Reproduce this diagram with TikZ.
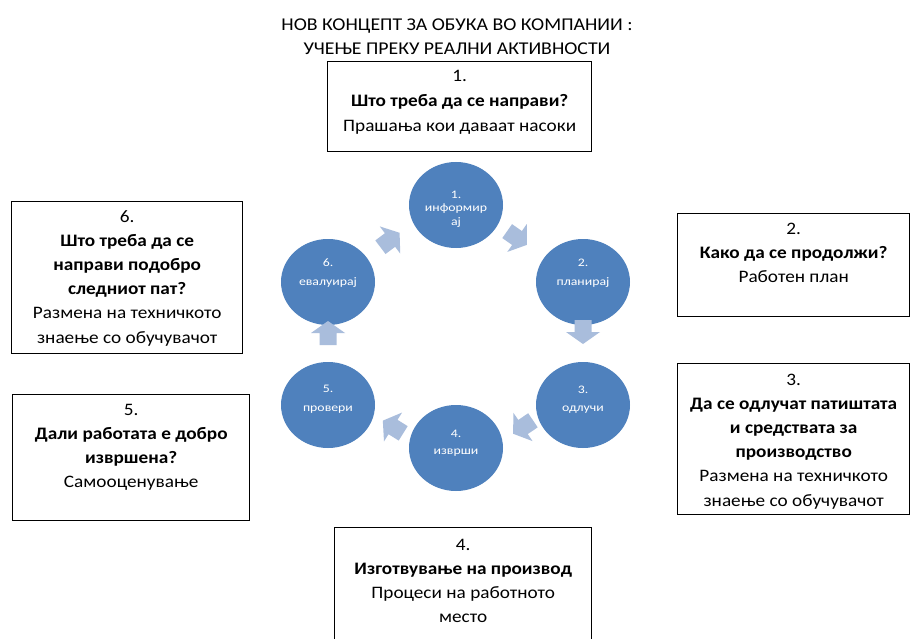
\documentclass[tikz,border=0pt]{standalone}
\usepackage{fontspec}
\setmainfont{Carlito}[FakeStretch=1.1]
\newfontfamily\circfont{Carlito}[FakeStretch=1.2]
\usetikzlibrary{shapes.geometric}
\definecolor{circblue}{HTML}{4F81BD}
\definecolor{arrblue}{HTML}{A9BDDC}
\begin{document}
\begin{tikzpicture}[x=1pt,y=-1pt,
 box/.style={draw=black, line width=1.4pt, anchor=north west, inner sep=0, minimum width=#1},
 boxtxt/.style={font=\fontsize{17.5}{24.1}\selectfont, align=center, anchor=north, inner sep=0},
 titletxt/.style={font=\fontsize{18}{24}\selectfont, align=center, anchor=north, inner sep=0},
 cyc/.style={ellipse, fill=circblue, minimum width=94, minimum height=86, inner sep=0},
 cyctxt/.style={text=white, font=\circfont\fontsize{11.5}{13.5}\selectfont, align=center, inner sep=0},
 blkarrow/.pic={\fill[arrblue] (-12,-8.5) -- (0,-8.5) -- (0,-17) -- (12,0) -- (0,17) -- (0,8.5) -- (-12,8.5) -- cycle;}
]
\path[use as bounding box, fill=white] (0,0) rectangle (910,639);
\clip (0,0) rectangle (910,639);

% title
\node[titletxt] (title) at (457,18.5) {НОВ КОНЦЕПТ ЗА ОБУКА ВО КОМПАНИИ :\\УЧЕЊЕ ПРЕКУ РЕАЛНИ АКТИВНОСТИ};

% boxes
\node[box=264, minimum height=90] (b1) at (327,61) {};
\node[boxtxt] (t1) at ([yshift=-9.5]b1.north) {1.\\\textbf{Што треба да се направи?}\\[1pt]Прашања кои даваат насоки};

\node[box=232, minimum height=103] (b2) at (677,213) {};
\node[boxtxt] (t2) at ([yshift=-9.5]b2.north) {2.\\\textbf{Како да се продолжи?}\\Работен план};

\node[box=232, minimum height=151] (b3) at (677,363) {};
\node[boxtxt] (t3) at ([yshift=-11]b3.north) {3.\\\textbf{Да се одлучат патиштата}\\\textbf{и средствата за}\\\textbf{производство}\\Размена на техничкото\\знаење со обучувачот};

\node[box=257, minimum height=125] (b4) at (334,527) {};
\node[boxtxt] (t4) at ([yshift=-12]b4.north) {4.\\\textbf{Изготвување на производ}\\Процеси на работното\\место};

\node[box=237, minimum height=126] (b5) at (12,394) {};
\node[boxtxt] (t5) at ([yshift=-10]b5.north) {5.\\\textbf{Дали работата е добро}\\\textbf{извршена?}\\Самооценување};

\node[box=231, minimum height=152] (b6) at (11,201) {};
\node[boxtxt] (t6) at ([yshift=-9.5]b6.north) {6.\\\textbf{Што треба да се}\\\textbf{направи подобро}\\\textbf{следниот пат?}\\Размена на техничкото\\знаење со обучувачот};

% cycle
\node[cyc] (c1) at (456,205) {};
\node[cyc] (c2) at (583,282) {};
\node[cyc] (c3) at (583,405) {};
\node[cyc] (c4) at (456,448) {};
\node[cyc] (c5) at (328,405) {};
\node[cyc] (c6) at (328,282) {};
\node[cyctxt] (l1) at (456,209) {1.\\информир\\ај};
\node[cyctxt] (l2) at (583,273.5) {2.\\[5.5pt]планирај};
\node[cyctxt] (l3) at (583,399.5) {3.\\[5pt]одлучи};
\node[cyctxt] (l4) at (456,443) {4.\\[4pt]изврши};
\node[cyctxt] (l5) at (328,399) {5.\\[5.5pt]провери};
\node[cyctxt] (l6) at (328,273.5) {6.\\[5.5pt]евалуирај};

% block arrows
\pic[rotate=-35] at (517,238) {blkarrow};
\pic[rotate=-90] at (583,332) {blkarrow};
\pic[rotate=-146] at (523,427) {blkarrow};
\pic[rotate=148] at (393,427) {blkarrow};
\pic[rotate=90] at (328,333) {blkarrow};
\pic[rotate=37] at (390,240) {blkarrow};
\end{tikzpicture}
\end{document}
